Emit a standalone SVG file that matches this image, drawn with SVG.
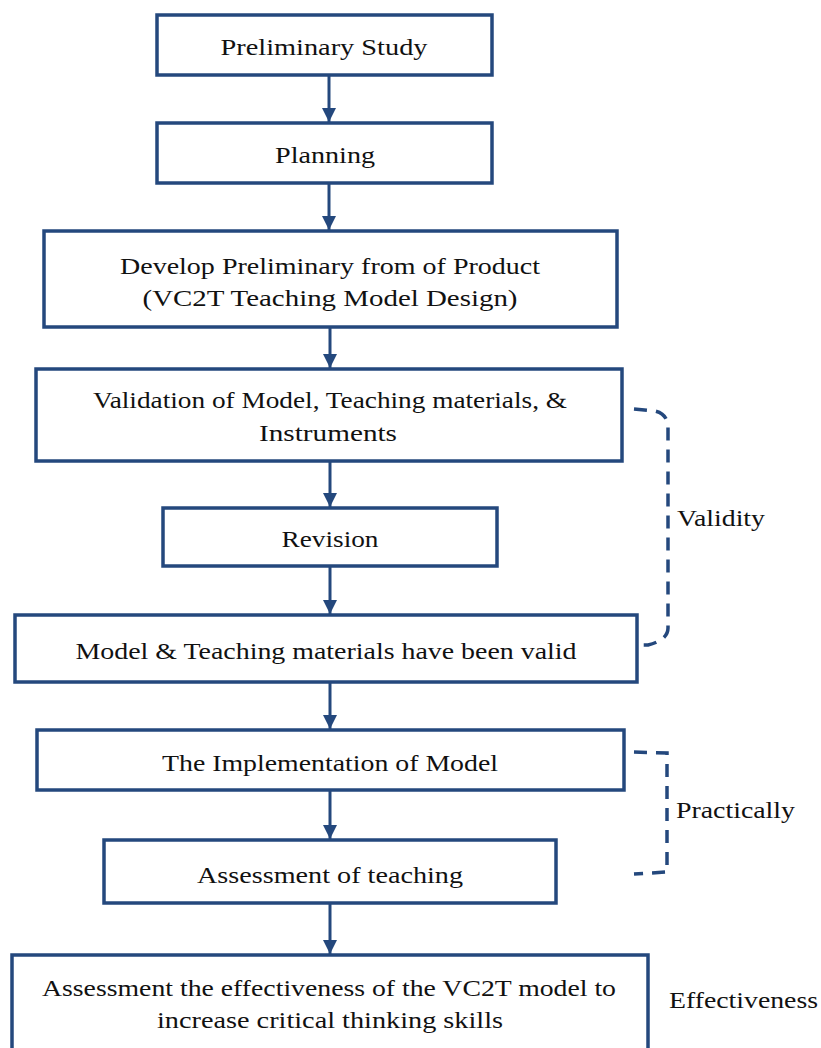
<svg xmlns="http://www.w3.org/2000/svg" width="821" height="1048" viewBox="0 0 821 1048">
<style>
.box{fill:#fff;stroke:#24487d;stroke-width:3.5}
.t{font-family:"Liberation Serif","DejaVu Serif",serif;font-size:23px;fill:#111;text-anchor:middle}
.l{font-family:"Liberation Serif","DejaVu Serif",serif;font-size:23px;fill:#111}
.c{stroke:#24487d;stroke-width:3;fill:none}
.d{stroke:#24487d;stroke-width:3.5;fill:none;stroke-dasharray:13 9}
</style>
<defs>
<marker id="ah" viewBox="0 0 10 10" refX="10" refY="5" markerWidth="4.8" markerHeight="4.8" markerUnits="strokeWidth" orient="auto">
<path d="M0,0 L10,5 L0,10 z" fill="#24487d"/>
</marker>
</defs>
<rect width="821" height="1048" fill="#fff"/>
<g id="connectors">
<line class="c" x1="329" y1="75" x2="329" y2="122" marker-end="url(#ah)"/>
<line class="c" x1="329" y1="183" x2="329" y2="230" marker-end="url(#ah)"/>
<line class="c" x1="330" y1="327" x2="330" y2="368" marker-end="url(#ah)"/>
<line class="c" x1="330" y1="461" x2="330" y2="507" marker-end="url(#ah)"/>
<line class="c" x1="330" y1="566" x2="330" y2="614" marker-end="url(#ah)"/>
<line class="c" x1="330" y1="682" x2="330" y2="729" marker-end="url(#ah)"/>
<line class="c" x1="330" y1="790" x2="330" y2="839" marker-end="url(#ah)"/>
<line class="c" x1="330" y1="903" x2="330" y2="954" marker-end="url(#ah)"/>
<path class="d" d="M634,409 L655,411 Q668,414 668,428 L668,628 Q668,640 648,645 L634,645"/>
<path class="d" d="M634,752 L667,753 L667,872 L634,874"/>
</g>
<g id="n1"><rect class="box" x="157" y="15" width="335" height="60"/><text class="t" x="324" y="55" textLength="207" lengthAdjust="spacingAndGlyphs">Preliminary Study</text></g>
<g id="n2"><rect class="box" x="157" y="123" width="335" height="60"/><text class="t" x="325" y="163" textLength="100" lengthAdjust="spacingAndGlyphs">Planning</text></g>
<g id="n3"><rect class="box" x="44" y="231" width="573" height="96"/><text class="t" x="330" y="274" textLength="420" lengthAdjust="spacingAndGlyphs">Develop Preliminary from of Product</text><text class="t" x="330" y="306" textLength="375" lengthAdjust="spacingAndGlyphs">(VC2T Teaching Model Design)</text></g>
<g id="n4"><rect class="box" x="36" y="369" width="586" height="92"/><text class="t" x="330" y="408" textLength="474" lengthAdjust="spacingAndGlyphs">Validation of Model, Teaching materials, &amp;</text><text class="t" x="328" y="441" textLength="138" lengthAdjust="spacingAndGlyphs">Instruments</text></g>
<g id="n5"><rect class="box" x="163" y="508" width="334" height="58"/><text class="t" x="330" y="547" textLength="97" lengthAdjust="spacingAndGlyphs">Revision</text></g>
<g id="n6"><rect class="box" x="15" y="615" width="622" height="67"/><text class="t" x="326" y="659" textLength="501" lengthAdjust="spacingAndGlyphs">Model &amp; Teaching materials have been valid</text></g>
<g id="n7"><rect class="box" x="37" y="730" width="587" height="60"/><text class="t" x="330" y="771" textLength="336" lengthAdjust="spacingAndGlyphs">The Implementation of Model</text></g>
<g id="n8"><rect class="box" x="104" y="840" width="452" height="63"/><text class="t" x="330" y="883" textLength="266" lengthAdjust="spacingAndGlyphs">Assessment of teaching</text></g>
<g id="n9"><rect class="box" x="12" y="955" width="636" height="100"/><text class="t" x="329" y="996" textLength="574" lengthAdjust="spacingAndGlyphs">Assessment the effectiveness of the VC2T model to</text><text class="t" x="330" y="1028" textLength="346" lengthAdjust="spacingAndGlyphs">increase critical thinking skills</text></g>
<g id="labels">
<text class="l" x="677" y="526" textLength="88" lengthAdjust="spacingAndGlyphs">Validity</text>
<text class="l" x="676" y="818" textLength="119" lengthAdjust="spacingAndGlyphs">Practically</text>
<text class="l" x="669" y="1008" textLength="149" lengthAdjust="spacingAndGlyphs">Effectiveness</text>
</g>
</svg>
